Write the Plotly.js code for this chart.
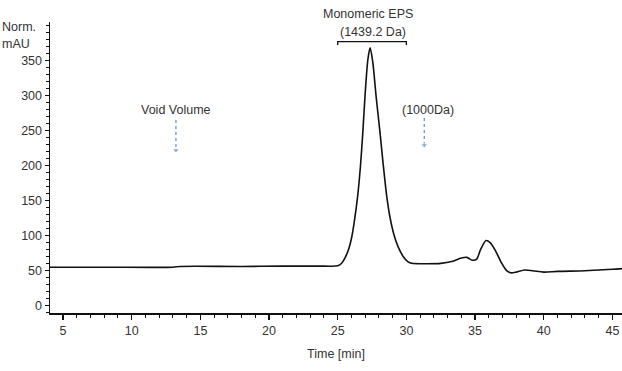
<!DOCTYPE html>
<html>
<head>
<meta charset="utf-8">
<script src="https://cdn.plot.ly/plotly-3.0.1.min.js"></script>
<style>html,body{margin:0;padding:0;background:#fff;}#chart{width:622px;height:371px;}</style>
</head>
<body>
<div id="chart"></div>
<script>
// Chromatogram: time (min) vs normalised absorbance (mAU)
const timeMin = [4.05, 8, 13.0, 13.5, 18, 21, 24, 25.0, 25.3, 25.55, 25.8, 26.0, 26.2, 26.45, 26.65, 26.82, 27.0, 27.2, 27.36, 27.55, 27.8, 28.08, 28.3, 28.57, 28.8, 29.1, 29.4, 29.78, 30.1, 30.4, 31.5, 32.5, 33.3, 34.0, 34.4, 34.8, 35.1, 35.4, 35.8, 36.1, 36.5, 36.9, 37.3, 37.6, 38.0, 38.6, 39.2, 40.0, 41, 43, 45, 45.7];
const normMAU = [55, 55, 55, 56, 56, 56.5, 56.5, 57, 61, 69, 81, 96, 119, 156, 198, 245, 303, 352, 368, 348, 298, 247, 204, 156, 127, 101, 84, 70, 63, 60.5, 60, 60.5, 63, 68, 69, 65, 66, 80, 93, 90, 78, 62, 50, 47, 48, 51, 50, 48, 49, 50, 52, 53];

// Annotation markers
const voidArrowX = [13.22, 13.22];
const voidArrowY = [265, 222];
const daArrowX = [31.3, 31.3];
const daArrowY = [268, 229];
const bracketX = [25, 25, 30, 30];
const bracketY = [372, 377, 377, 372];

const xTickVals = [5, 10, 15, 20, 25, 30, 35, 40, 45];
const yTickVals = [0, 50, 100, 150, 200, 250, 300, 350];

const textFont = {family: 'Liberation Sans, Arial, sans-serif', size: 12.5, color: '#333'};
const arrowColor = '#5b8fc9';

const traces = [
  {x: timeMin, y: normMAU, type: 'scatter', mode: 'lines',
   line: {color: '#111', width: 1.6, shape: 'spline', smoothing: 0.8}, hoverinfo: 'none'},
  {x: voidArrowX, y: voidArrowY, type: 'scatter', mode: 'lines+markers',
   line: {color: arrowColor, width: 1.2, dash: 'dot'},
   marker: {symbol: ['circle', 'triangle-down'], size: [0, 6], color: arrowColor}, hoverinfo: 'none'},
  {x: daArrowX, y: daArrowY, type: 'scatter', mode: 'lines+markers',
   line: {color: arrowColor, width: 1.2, dash: 'dot'},
   marker: {symbol: ['circle', 'triangle-down'], size: [0, 6], color: arrowColor}, hoverinfo: 'none'},
  {x: bracketX, y: bracketY, type: 'scatter', mode: 'lines',
   line: {color: '#111', width: 1.3}, hoverinfo: 'none'}
];

const layout = {
  width: 622, height: 371,
  margin: {l: 50, r: 0, t: 22, b: 58},
  paper_bgcolor: '#fff', plot_bgcolor: '#fff',
  showlegend: false,
  font: textFont,
  xaxis: {
    range: [4.05, 45.7], showgrid: false, zeroline: false,
    showline: true, linecolor: '#111', linewidth: 1.5,
    ticks: 'outside', ticklen: 5, tickwidth: 1.2, tickcolor: '#111',
    tickvals: xTickVals, tickfont: textFont,
    minor: {dtick: 1, ticks: 'outside', ticklen: 3, tickcolor: '#111', tickwidth: 1},
    title: {text: 'Time [min]', font: textFont, standoff: 12}
  },
  yaxis: {
    range: [-10.4, 405], showgrid: false, zeroline: false,
    showline: true, linecolor: '#111', linewidth: 1.5,
    ticks: 'outside', ticklen: 4, tickwidth: 1.2, tickcolor: '#111',
    tickvals: yTickVals, tickfont: textFont,
    minor: {dtick: 10, ticks: 'outside', ticklen: 2.5, tickcolor: '#111', tickwidth: 1}
  },
  annotations: [
    {xref: 'paper', yref: 'paper', x: -50/572, y: (313-27)/291, xanchor: 'left', yanchor: 'middle', text: 'Norm.', showarrow: false, font: textFont},
    {xref: 'paper', yref: 'paper', x: -50/572, y: (313-44)/291, xanchor: 'left', yanchor: 'middle', text: 'mAU', showarrow: false, font: textFont},
    {xref: 'x', yref: 'y', x: 13.22, y: 280, text: 'Void Volume', showarrow: false, font: textFont},
    {xref: 'x', yref: 'y', x: 31.55, y: 279, text: '(1000Da)', showarrow: false, font: textFont},
    {xref: 'x', yref: 'paper', x: 27.2, y: (313-14)/291, yanchor: 'middle', text: 'Monomeric EPS', showarrow: false, font: textFont},
    {xref: 'x', yref: 'y', x: 27.55, y: 391, text: '(1439.2 Da)', showarrow: false, font: textFont}
  ]
};

Plotly.newPlot('chart', traces, layout, {staticPlot: true, displayModeBar: false});
</script>
</body>
</html>
